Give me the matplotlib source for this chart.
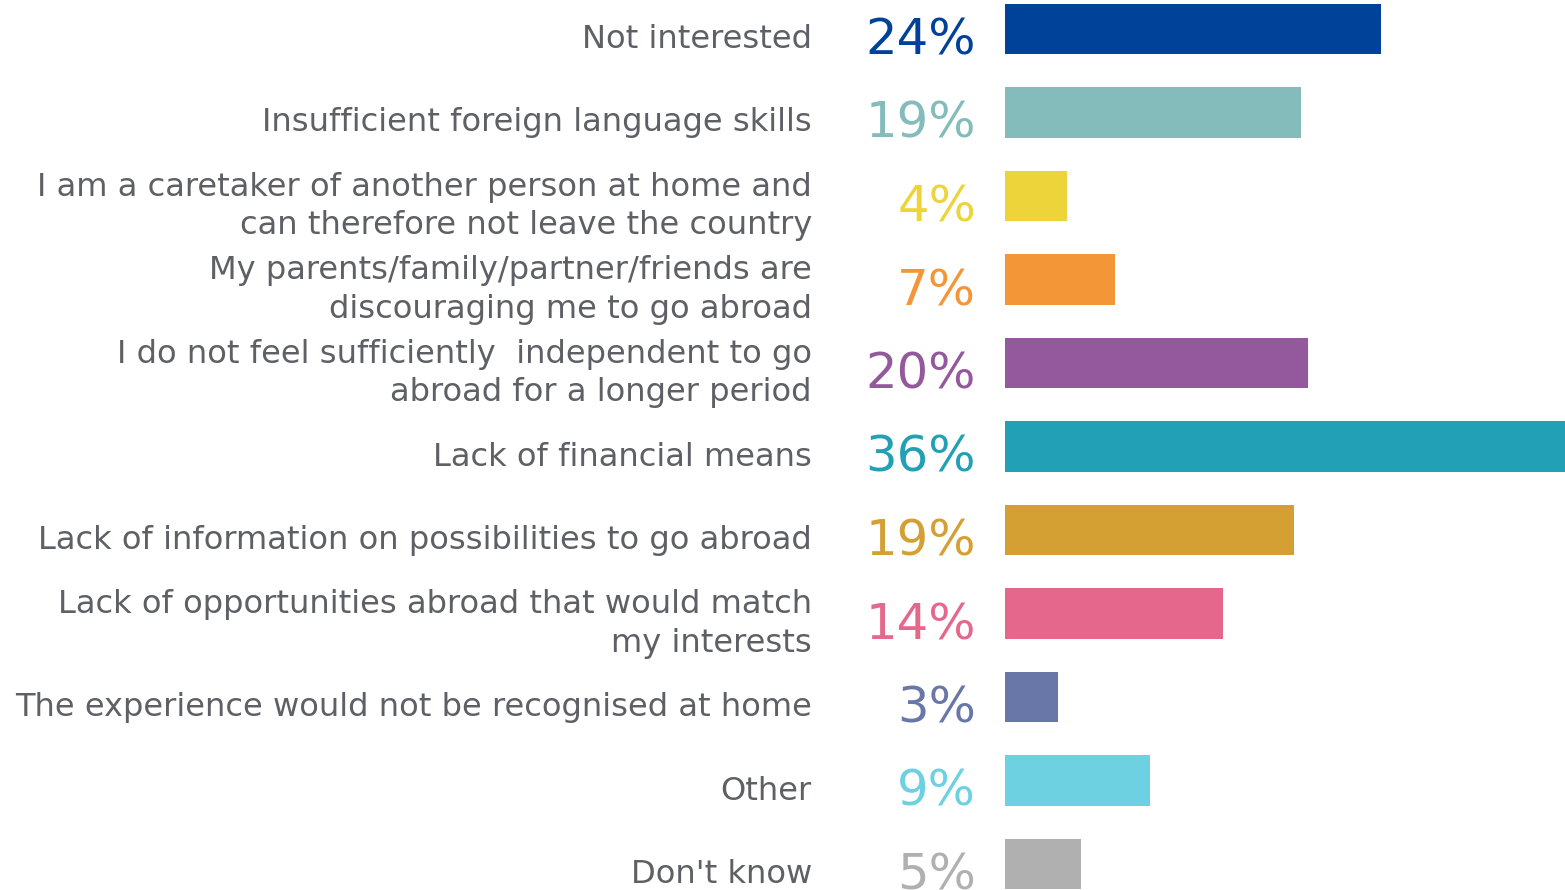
import matplotlib
matplotlib.use("Agg")
import matplotlib.pyplot as plt
from matplotlib.transforms import blended_transform_factory

categories = [
    "Not interested",
    "Insufficient foreign language skills",
    "I am a caretaker of another person at home and\ncan therefore not leave the country",
    "My parents/family/partner/friends are\ndiscouraging me to go abroad",
    "I do not feel sufficiently  independent to go\nabroad for a longer period",
    "Lack of financial means",
    "Lack of information on possibilities to go abroad",
    "Lack of opportunities abroad that would match\nmy interests",
    "The experience would not be recognised at home",
    "Other",
    "Don't know",
]
values = [24.2, 19.0, 4.0, 7.1, 19.5, 36.0, 18.6, 14.0, 3.4, 9.3, 4.9]
value_labels = ["24%", "19%", "4%", "7%", "20%", "36%", "19%", "14%", "3%", "9%", "5%"]
colors = ["#00419A", "#84BBBB", "#ECD43A", "#F29638", "#93599C", "#22A0B6",
          "#D5A033", "#E5688C", "#6977A8", "#6DD1E1", "#B0B0B0"]

W, H = 1565, 890
fig = plt.figure(figsize=(W / 100, H / 100), dpi=100)
ax = fig.add_axes([1005 / W, 0, 1 - 1005 / W, 1])
ax.axis("off")

n = len(categories)
ypos = list(range(n))
ax.barh(ypos, values, height=0.6, color=colors)
row_px = 83.5
ax.set_xlim(0, 36)
ax.set_ylim((H - 29) / row_px, -29 / row_px)

trans = blended_transform_factory(fig.transFigure, ax.transData)
off_cat = 10.5 / row_px
off_val = 11.5 / row_px
for i, (cat, lab, c) in enumerate(zip(categories, value_labels, colors)):
    ax.text(812 / W, i + off_cat, cat, transform=trans, ha="right", va="center",
            fontsize=23.1, color="#5F6066", family="DejaVu Sans",
            linespacing=1.3, clip_on=False)
    ax.text(976 / W, i + off_val, lab, transform=trans, ha="right", va="center",
            fontsize=35.8, color=c, family="DejaVu Sans", clip_on=False)

fig.savefig("out.png", dpi=100)
